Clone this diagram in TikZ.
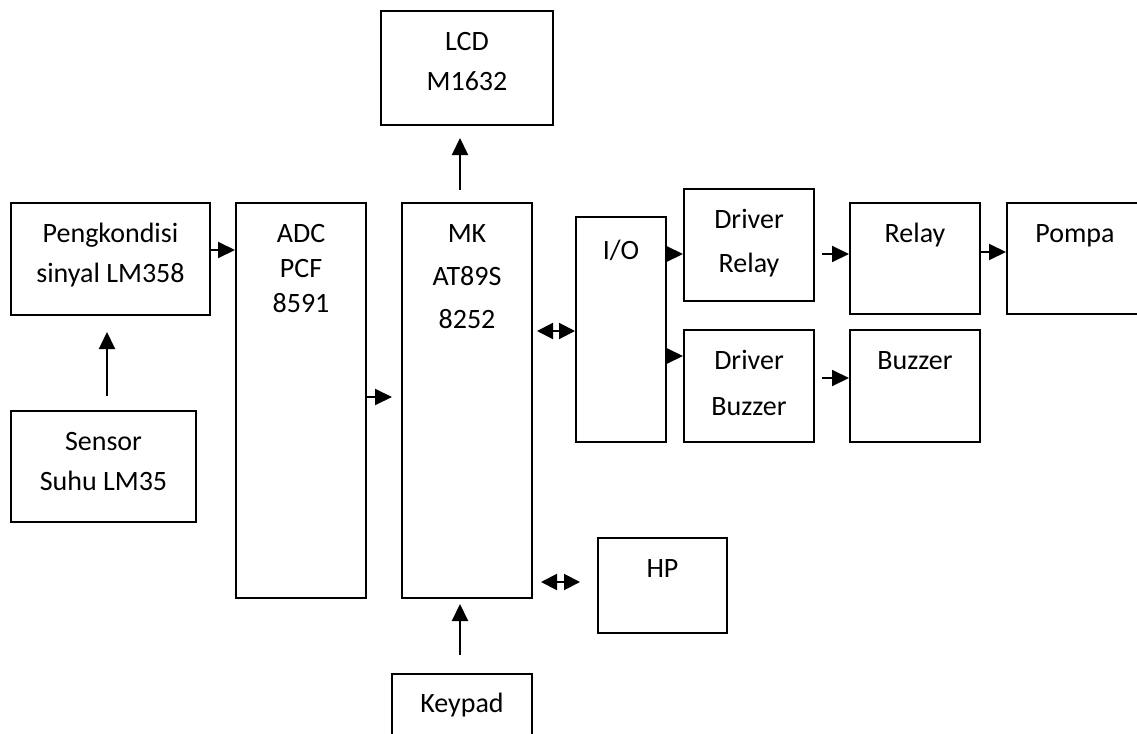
\documentclass[tikz,border=0pt]{standalone}
\usepackage{fontspec}
\setmainfont{Carlito}
\usetikzlibrary{arrows.meta}

\begin{document}
\begin{tikzpicture}[x=0.5pt, y=-0.5pt,
    kotak/.style={draw, line width=1pt, inner sep=0pt},
    tulisan/.style={anchor=base, align=flush center, text width=120pt, inner sep=0pt,
        font=\fontsize{14}{20}\selectfont, yshift=-20pt},
    panah/.style={line width=1pt, -{Triangle[length=8.5pt,width=8pt]}},
    dua/.style={line width=1pt, {Triangle[length=8pt,width=8pt]}-{Triangle[length=8pt,width=8pt]}}]
    \useasboundingbox (0,0) rectangle (1137,734);
    \clip (0,0) rectangle (1137,734);

    % blok
    \node[kotak, minimum width=86pt, minimum height=57pt,
        label={[tulisan]north:LCD\\M1632}] (lcd) at (467,68) {};
    \node[kotak, minimum width=99.5pt, minimum height=56pt,
        label={[tulisan]north:Pengkondisi\\sinyal LM358}] (kond) at (110.5,259) {};
    \node[kotak, minimum width=92.5pt, minimum height=55.5pt,
        label={[tulisan]north:Sensor\\Suhu LM35}] (sensor) at (103.5,466.5) {};
    \node[kotak, minimum width=65pt, minimum height=197.5pt,
        label={[tulisan, font=\fontsize{14}{17.5}\selectfont]north:ADC\\PCF\\8591}] (adc) at (301,400.5) {};
    \node[kotak, minimum width=65pt, minimum height=197.5pt,
        label={[tulisan, font=\fontsize{14}{21.5}\selectfont]north:MK\\AT89S\\8252}] (mk) at (467,400.5) {};
    \node[kotak, minimum width=45pt, minimum height=112.5pt,
        label={[tulisan, yshift=-1.5pt]north:I/O}] (io) at (621,329.5) {};
    \node[kotak, minimum width=65pt, minimum height=56pt,
        label={[tulisan, font=\fontsize{14}{22}\selectfont]north:Driver\\Relay}] (drelay) at (749,245) {};
    \node[kotak, minimum width=65pt, minimum height=56pt,
        label={[tulisan, font=\fontsize{14}{23}\selectfont]north:Driver\\Buzzer}] (dbuzzer) at (749,386) {};
    \node[kotak, minimum width=65pt, minimum height=55.5pt,
        label={[tulisan]north:Relay}] (relay) at (915,258.5) {};
    \node[kotak, minimum width=68pt, minimum height=55.5pt,
        label={[tulisan]north:Pompa}] (pompa) at (1075,258.5) {};
    \node[kotak, minimum width=65pt, minimum height=56pt,
        label={[tulisan]north:Buzzer}] (buzzer) at (915,386) {};
    \node[kotak, minimum width=64.5pt, minimum height=47.5pt,
        label={[tulisan]north:HP}] (hp) at (662.5,585.5) {};
    \node[kotak, minimum width=70pt, minimum height=43pt,
        label={[tulisan, yshift=0.5pt]north:Keypad}] (keypad) at (462,717) {};

    % panah
    \draw[panah, shorten <=7pt, shorten >=8pt] (sensor.north -| 107,0) -- (kond.south -| 107,0);
    \draw[panah] (kond.east |- 0,250) -- (adc.west |- 0,250);
    \draw[panah, shorten >=4.5pt] (adc.east |- 0,397) -- (mk.west |- 0,397);
    \draw[panah, shorten <=6pt, shorten >=6pt] (mk.north -| 460,0) -- (lcd.south -| 460,0);
    \draw[panah, shorten <=9pt, shorten >=2.5pt] (keypad.north -| 460,0) -- (mk.south -| 460,0);
    \draw[dua, shorten <=2pt] (mk.east |- 0,331) -- (io.west |- 0,331);
    \draw[dua, shorten <=4pt, shorten >=8.5pt] (mk.east |- 0,582) -- (hp.west |- 0,582);
    \draw[panah] (io.east |- 0,254) -- (drelay.west |- 0,254);
    \draw[panah] (io.east |- 0,356) -- (dbuzzer.west |- 0,356);
    \draw[panah, shorten <=3.5pt] (drelay.east |- 0,254) -- (relay.west |- 0,254);
    \draw[panah, shorten <=3.5pt] (dbuzzer.east |- 0,378) -- (buzzer.west |- 0,378);
    \draw[panah] (relay.east |- 0,252) -- (pompa.west |- 0,252);
\end{tikzpicture}
\end{document}
